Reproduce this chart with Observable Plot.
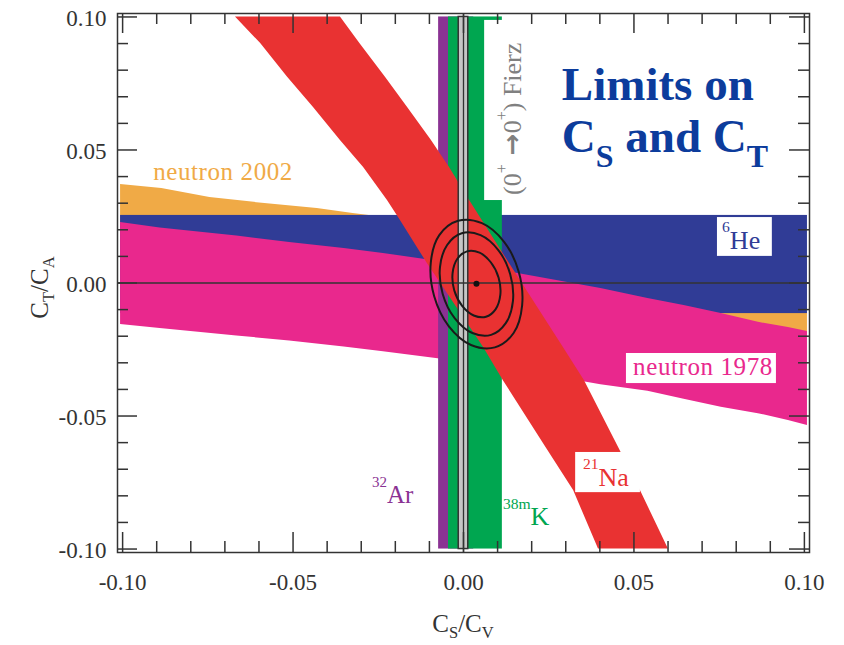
<!DOCTYPE html>
<html>
<head>
<meta charset="utf-8">
<script src="https://cdn.jsdelivr.net/npm/d3@7"></script>
<script src="https://cdn.jsdelivr.net/npm/@observablehq/plot@0.6"></script>
<style>
  html, body { margin: 0; padding: 0; background: #fff; }
  svg { display: block; }
</style>
</head>
<body>
<div id="chart"></div>
<script>
// ---------------- data ----------------
const xMajor = [-0.10, -0.05, 0.00, 0.05, 0.10];
const yMajor = [-0.10, -0.05, 0.00, 0.05, 0.10];
const minorTicks = [-0.09, -0.08, -0.07, -0.06, -0.04, -0.03, -0.02, -0.01,
                    0.01, 0.02, 0.03, 0.04, 0.06, 0.07, 0.08, 0.09];

// neutron 2002 band (orange)
const n2002X     = [-0.1006, -0.0885, -0.0744, -0.0606, -0.0429, -0.0324, 0.0000, 0.1009];
const n2002Upper = [ 0.0370,  0.0355,  0.0321,  0.0302,  0.0280,  0.0261, 0.0210, 0.0090];
const n2002Lower = [ 0.0120,  0.0101,  0.0079,  0.0057,  0.0029,  0.0012, -0.0039, -0.0199];

// 6He band (blue, horizontal)
const he6X = [-0.1006, 0.1009];
const he6Y = [-0.0115, 0.0254];

// neutron 1978 band (pink)
const n1978X     = [-0.1006, -0.0890, -0.0665, -0.0510, -0.0350, -0.0235, 0.0000, 0.0160,
                     0.0403,  0.0541,  0.0647,  0.0756,  0.0865,  0.0953, 0.1009];
const n1978Upper = [ 0.0227,  0.0207,  0.0177,  0.0152,  0.0130,  0.0111, 0.0068, 0.0036,
                    -0.0021, -0.0058, -0.0085, -0.0115, -0.0148, -0.0167, -0.0182];
const n1978Lower = [-0.0156, -0.0171, -0.0199, -0.0218, -0.0241, -0.0258, -0.0297, -0.0328,
                    -0.0382, -0.0407, -0.0437, -0.0467, -0.0491, -0.0517, -0.0536];

// vertical bands
const ar32X  = [-0.0073, 0.0030];   // 32Ar (purple)
const k38X   = [-0.0044, 0.0114];   // 38mK (green)
const fierzX = [-0.0014, 0.0014];   // (0+ -> 0+) Fierz (grey)
const fullY  = [-0.1000, 0.1000];

// 21Na band (red, diagonal)
const na21Y     = [ 0.1000,  0.0900,  0.0773,  0.0660,  0.0536,  0.0434,  0.0310,
                    0.0235,  0.0073, -0.0242, -0.0367, -0.0618, -0.0780, -0.1000];
const na21Left  = [-0.0669, -0.0595, -0.0516, -0.0440, -0.0361, -0.0293, -0.0223,
                   -0.0185, -0.0106,  0.0059,  0.0117,  0.0242,  0.0323,  0.0396];
const na21Right = [-0.0361, -0.0304, -0.0229, -0.0164, -0.0094, -0.0041,  0.0018,
                    0.0055,  0.0135,  0.0293,  0.0355,  0.0455,  0.0519,  0.0601];

// combined-fit confidence contours
const contourOuter = [[0.0092,-0.0242],[0.0147,-0.0188],[0.0172,-0.0084],[0.0162,0.0042],
  [0.0119,0.0155],[0.0054,0.0225],[-0.0016,0.0234],[-0.0071,0.0180],[-0.0096,0.0076],
  [-0.0086,-0.0050],[-0.0043,-0.0163],[0.0022,-0.0233]];
const contourMiddle = [[0.0081,-0.0195],[0.0124,-0.0151],[0.0145,-0.0068],[0.0137,0.0033],
  [0.0102,0.0124],[0.0050,0.0180],[-0.0005,0.0187],[-0.0048,0.0143],[-0.0069,0.0060],
  [-0.0061,-0.0041],[-0.0026,-0.0132],[0.0026,-0.0188]];
const contourInner = [[0.0066,-0.0127],[0.0094,-0.0099],[0.0108,-0.0045],[0.0103,0.0020],
  [0.0080,0.0078],[0.0047,0.0114],[0.0010,0.0119],[-0.0018,0.0091],[-0.0032,0.0037],
  [-0.0027,-0.0028],[-0.0004,-0.0086],[0.0030,-0.0122]];
const bestFit = [0.0038, -0.0003];

// ---------------- styling / annotations ----------------
const C = {
  orange: "#f0aa46", blue: "#303c96", pink: "#e9288d", red: "#e93232",
  purple: "#8a3293", green: "#00a650", grey: "#c6c6c6", ink: "#333333",
  title: "#0c3c9c", fierz: "#808080"
};
const FONT = "'Liberation Serif', 'Times New Roman', serif";

const labelBoxes = [
  {x1: 0.0062, x2: 0.0200, y1: 0.0310, y2: 0.0987},   // Fierz label
  {x1: 0.0745, x2: 0.0906, y1: 0.0100, y2: 0.0246},   // 6He
  {x1: 0.0478, x2: 0.0918, y1: -0.0378, y2: -0.0265}, // neutron 1978
  {x1: 0.0329, x2: 0.0519, y1: -0.0788, y2: -0.0637}  // 21Na
];

const labels = [
  {x: -0.0909, y: 0.0385, parts: [["neutron 2002"]], fill: C.orange, size: 25, spacing: 0.6},
  {x: 0.0760, y: 0.0126, parts: [["6", "sup"], ["He"]], fill: C.blue, size: 26},
  {x: 0.0499, y: -0.0348, parts: [["neutron 1978"]], fill: C.pink, size: 25, spacing: 0.6},
  {x: 0.0352, y: -0.0765, parts: [["21", "sup"], ["Na"]], fill: C.red, size: 26},
  {x: -0.0267, y: -0.0829, parts: [["32", "sup"], ["Ar"]], fill: C.purple, size: 25},
  {x: 0.0117, y: -0.0912, parts: [["38m", "sup"], ["K"]], fill: C.green, size: 26},
  {x: 0.0170, y: 0.0329, rotate: -90, supShift: 0.55, supSize: 0.62,
   parts: [["(0"], ["+", "sup"], [" \u2192", "arrow"], ["0"], ["+", "sup"], [") Fierz"]],
   fill: C.fierz, size: 26},
  {x: 0.0290, y: 0.0686, parts: [["Limits on"]], fill: C.title, size: 47, weight: "bold"},
  {x: 0.0290, y: 0.0490, subSize: 0.68, subShift: 0.32,
   parts: [["C"], ["S", "sub"], [" and C"], ["T", "sub"]], fill: C.title, size: 47, weight: "bold"}
];

// ---------------- tables ----------------
const n2002 = n2002X.map((x, i) => ({x, lo: n2002Lower[i], hi: n2002Upper[i]}));
const n1978 = n1978X.map((x, i) => ({x, lo: n1978Lower[i], hi: n1978Upper[i]}));
const na21 = na21Y.map((y, i) => ({y, l: na21Left[i], r: na21Right[i]}));
const rectOf = (xs, ys) => ({x1: xs[0], x2: xs[1], y1: ys[0], y2: ys[1]});
const contours = [
  ...contourOuter.map(([x, y]) => ({x, y, level: "outer"})),
  ...contourMiddle.map(([x, y]) => ({x, y, level: "middle"})),
  ...contourInner.map(([x, y]) => ({x, y, level: "inner"}))
];

// ---------------- layout ----------------
const W = 844, H = 645, mL = 117, mR = 35, mT = 13, mB = 93;
const innerW = W - mL - mR, innerH = H - mT - mB;
const minorLen = 11, majorLen = 20;
const rectCh = {x1: "x1", x2: "x2", y1: "y1", y2: "y2"};
const tickStyle = {stroke: C.ink, strokeWidth: 1.5};

const plot = Plot.plot({
  width: W, height: H,
  marginLeft: mL, marginRight: mR, marginTop: mT, marginBottom: mB,
  x: {domain: [-0.1015, 0.1015], label: null},
  y: {domain: [-0.1013, 0.1013], label: null},
  style: {fontFamily: FONT, fontSize: "23px", color: C.ink, background: "#fff"},
  marks: [
    Plot.areaY(n2002, {x: "x", y1: "lo", y2: "hi", fill: C.orange}),
    Plot.rect([rectOf(he6X, he6Y)], {...rectCh, fill: C.blue}),
    Plot.areaY(n1978, {x: "x", y1: "lo", y2: "hi", fill: C.pink}),
    Plot.rect([rectOf(ar32X, fullY)], {...rectCh, fill: C.purple}),
    Plot.rect([rectOf(k38X, fullY)], {...rectCh, fill: C.green}),
    Plot.areaX(na21, {y: "y", x1: "l", x2: "r", fill: C.red}),
    Plot.rect([rectOf(fierzX, fullY)], {...rectCh, fill: C.grey, stroke: C.ink, strokeWidth: 1.5}),
    Plot.ruleX([0], {stroke: C.ink, strokeWidth: 1.3}),
    Plot.rect(labelBoxes, {...rectCh, fill: "#fff"}),
    Plot.ruleY([0], {stroke: C.ink, strokeWidth: 1.5}),
    Plot.line(contours, {x: "x", y: "y", z: "level", curve: "catmull-rom-closed",
                         stroke: "#1a1a1a", strokeWidth: 2}),
    Plot.dot([bestFit], {x: d => d[0], y: d => d[1], r: 3, fill: "#111"}),
    // ticks (inward), bottom / top / left / right
    Plot.tickX(minorTicks, {x: d => d, insetTop: innerH - minorLen, ...tickStyle}),
    Plot.tickX(xMajor, {x: d => d, insetTop: innerH - majorLen, ...tickStyle}),
    Plot.tickX(minorTicks, {x: d => d, insetBottom: innerH - minorLen, ...tickStyle}),
    Plot.tickX(xMajor, {x: d => d, insetBottom: innerH - majorLen, ...tickStyle}),
    Plot.tickY(minorTicks, {y: d => d, insetRight: innerW - minorLen, ...tickStyle}),
    Plot.tickY(yMajor, {y: d => d, insetRight: innerW - majorLen, ...tickStyle}),
    Plot.tickY(minorTicks, {y: d => d, insetLeft: innerW - minorLen, ...tickStyle}),
    Plot.tickY(yMajor, {y: d => d, insetLeft: innerW - majorLen, ...tickStyle}),
    Plot.frame({stroke: C.ink, strokeWidth: 1.5}),
    Plot.axisX(xMajor, {anchor: "bottom", tickSize: 0, tickPadding: 21, label: null,
                        tickFormat: d => d.toFixed(2), fill: C.ink}),
    Plot.axisY(yMajor, {anchor: "left", tickSize: 0, tickPadding: 11, label: null,
                        tickFormat: d => d.toFixed(2), fill: C.ink, dy: 2})
  ]
});

document.getElementById("chart").appendChild(plot);

// ---------------- rich text (sub/superscripts) ----------------
const sx = plot.scale("x"), sy = plot.scale("y");
const svg = d3.select(plot);

function richText(px, py, {parts, fill, size, weight = "normal", rotate = 0, anchor = "start",
                           spacing = 0, supShift = 0.64, supSize = 0.6, subShift = 0.28, subSize = 0.68}) {
  const t = svg.append("text")
    .attr("transform", `translate(${px},${py})` + (rotate ? ` rotate(${rotate})` : ""))
    .attr("font-family", FONT).attr("font-size", size).attr("font-weight", weight)
    .attr("fill", fill).attr("text-anchor", anchor)
    .attr("letter-spacing", spacing);
  let cur = 0;
  for (const [s, kind] of parts) {
    let off = 0, fs = size;
    if (kind === "sup") { off = -supShift * size; fs = size * supSize; }
    if (kind === "sub") { off = subShift * size; fs = size * subSize; }
    const ts = t.append("tspan").text(s).attr("font-size", fs).attr("dy", off - cur);
    if (kind === "arrow") ts.attr("font-weight", "bold").attr("font-family", "'DejaVu Sans', sans-serif");
    cur = off;
  }
  return t;
}

for (const L of labels) richText(sx.apply(L.x), sy.apply(L.y), L);

// axis titles
richText(mL - 69, mT + innerH / 2 + 5, {
  parts: [["C"], ["T", "sub"], ["/C"], ["A", "sub"]], fill: C.ink, size: 25,
  rotate: -90, anchor: "middle", subShift: 0.22, subSize: 0.66
});
richText(sx.apply(0), H - 13, {
  parts: [["C"], ["S", "sub"], ["/C"], ["V", "sub"]], fill: C.ink, size: 25,
  anchor: "middle", subShift: 0.22, subSize: 0.66
});
</script>
</body>
</html>
